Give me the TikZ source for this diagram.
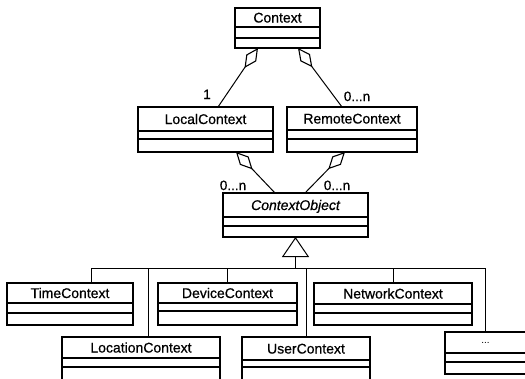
\documentclass[tikz,border=0pt]{standalone}
\usepackage{fontspec}
\setmainfont{Liberation Sans}[
  BoldFont={Liberation Sans}, BoldFeatures={FakeBold=0.7},
  BoldItalicFont={Liberation Sans Italic}, BoldItalicFeatures={FakeBold=0.7}]
\usetikzlibrary{arrows.meta,calc}

\tikzset{
  clsbox/.style={draw, line width=1.1pt, inner sep=0pt, outer sep=0pt, anchor=north west},
  clsname/.style={font=\fontsize{14}{16}\selectfont\bfseries, inner sep=0pt, text height=10pt, text depth=0pt},
  mult/.style={font=\fontsize{13.5}{16}\selectfont\bfseries, inner sep=0pt, text height=10pt, text depth=0pt},
  link/.style={line width=1pt},
  agg/.style={link, {Diamond[open, length=24pt, width=12pt, line width=1.1pt]}-},
  gen/.style={link, -{Triangle[open, length=20pt, width=27pt, line width=1pt]}},
}

% UML class box: [text style]{name}{x1}{y1}{x2}{y2}{line 1}{line 2}{class name}
\newcommand\umlclass[9][]{%
  \node[clsbox, minimum width={#5-#3}, minimum height={#6-#4}] (#2) at (#3,#4) {};
  \draw[line width=1.1pt] (#3,#7) -- (#5,#7) (#3,#8) -- (#5,#8);
  \node[clsname,#1] (#2-name) at ({(#3+#5)/2},{(#4+#7)/2}) {#9};
}

\begin{document}
\begin{tikzpicture}[x=1pt, y=-1pt]
\useasboundingbox (0,0) rectangle (525,378);
\clip (0,0) rectangle (525,378);

% classes
\umlclass{context}{235}{8}{320}{48}{27}{38}{Context}
\umlclass{local}{138}{107}{273}{152}{131}{139}{LocalContext}
\umlclass{remote}{287}{107}{417}{152}{130}{139}{RemoteContext}
\umlclass[font=\fontsize{14}{16}\selectfont\bfseries\itshape]{cobj}{223}{193}{368}{237}{217}{226}{ContextObject}
\umlclass{time}{7}{283}{133}{325}{303}{313}{TimeContext}
\umlclass{device}{158}{283}{297}{325}{303}{311}{DeviceContext}
\umlclass{network}{314}{283}{472}{325}{304}{313}{NetworkContext}
\umlclass{location}{62}{337}{220}{400}{358}{367}{LocationContext}
\umlclass{user}{242}{337}{370}{400}{360}{367}{UserContext}
\umlclass[font=\fontsize{10}{12}\selectfont, text height=2pt]{dots}{445}{332}{526}{374}{353}{362}{...}

% aggregations
\draw[agg] ($(context.south west)+(23,0)$) -- ($(local.north west)+(80,0)$);
\draw[agg] ($(context.south west)+(63,0)$) -- ($(remote.north west)+(55,0)$);
\draw[agg] ($(local.south west)+(98,0)$) -- ($(cobj.north west)+(52,0)$);
\draw[agg] ($(remote.south west)+(58,0)$) -- ($(cobj.north west)+(82,0)$);

% multiplicities
\node[mult] (m-local) at (207,94) {1};
\node[mult] (m-remote) at (357,96) {0...n};
\node[mult] (m-cobj-l) at (233,185) {0...n};
\node[mult] (m-cobj-r) at (337,185) {0...n};

% generalization tree
\coordinate (bus) at ($(cobj.south)+(0,31)$);
\draw[gen] (bus) -- (cobj.south);
\coordinate (timedrop) at ($(time.north west)+(84,0)$);
\coordinate (locdrop) at ($(location.north west)+(86,0)$);
\draw[link] (timedrop) |- (dots.north |- bus) -- (dots.north);
\draw[link] (locdrop) -- (locdrop |- bus);
\draw[link] (device.north) -- (device.north |- bus);
\draw[link] (user.north) -- (user.north |- bus);
\draw[link] (network.north) -- (network.north |- bus);
\end{tikzpicture}
\end{document}
